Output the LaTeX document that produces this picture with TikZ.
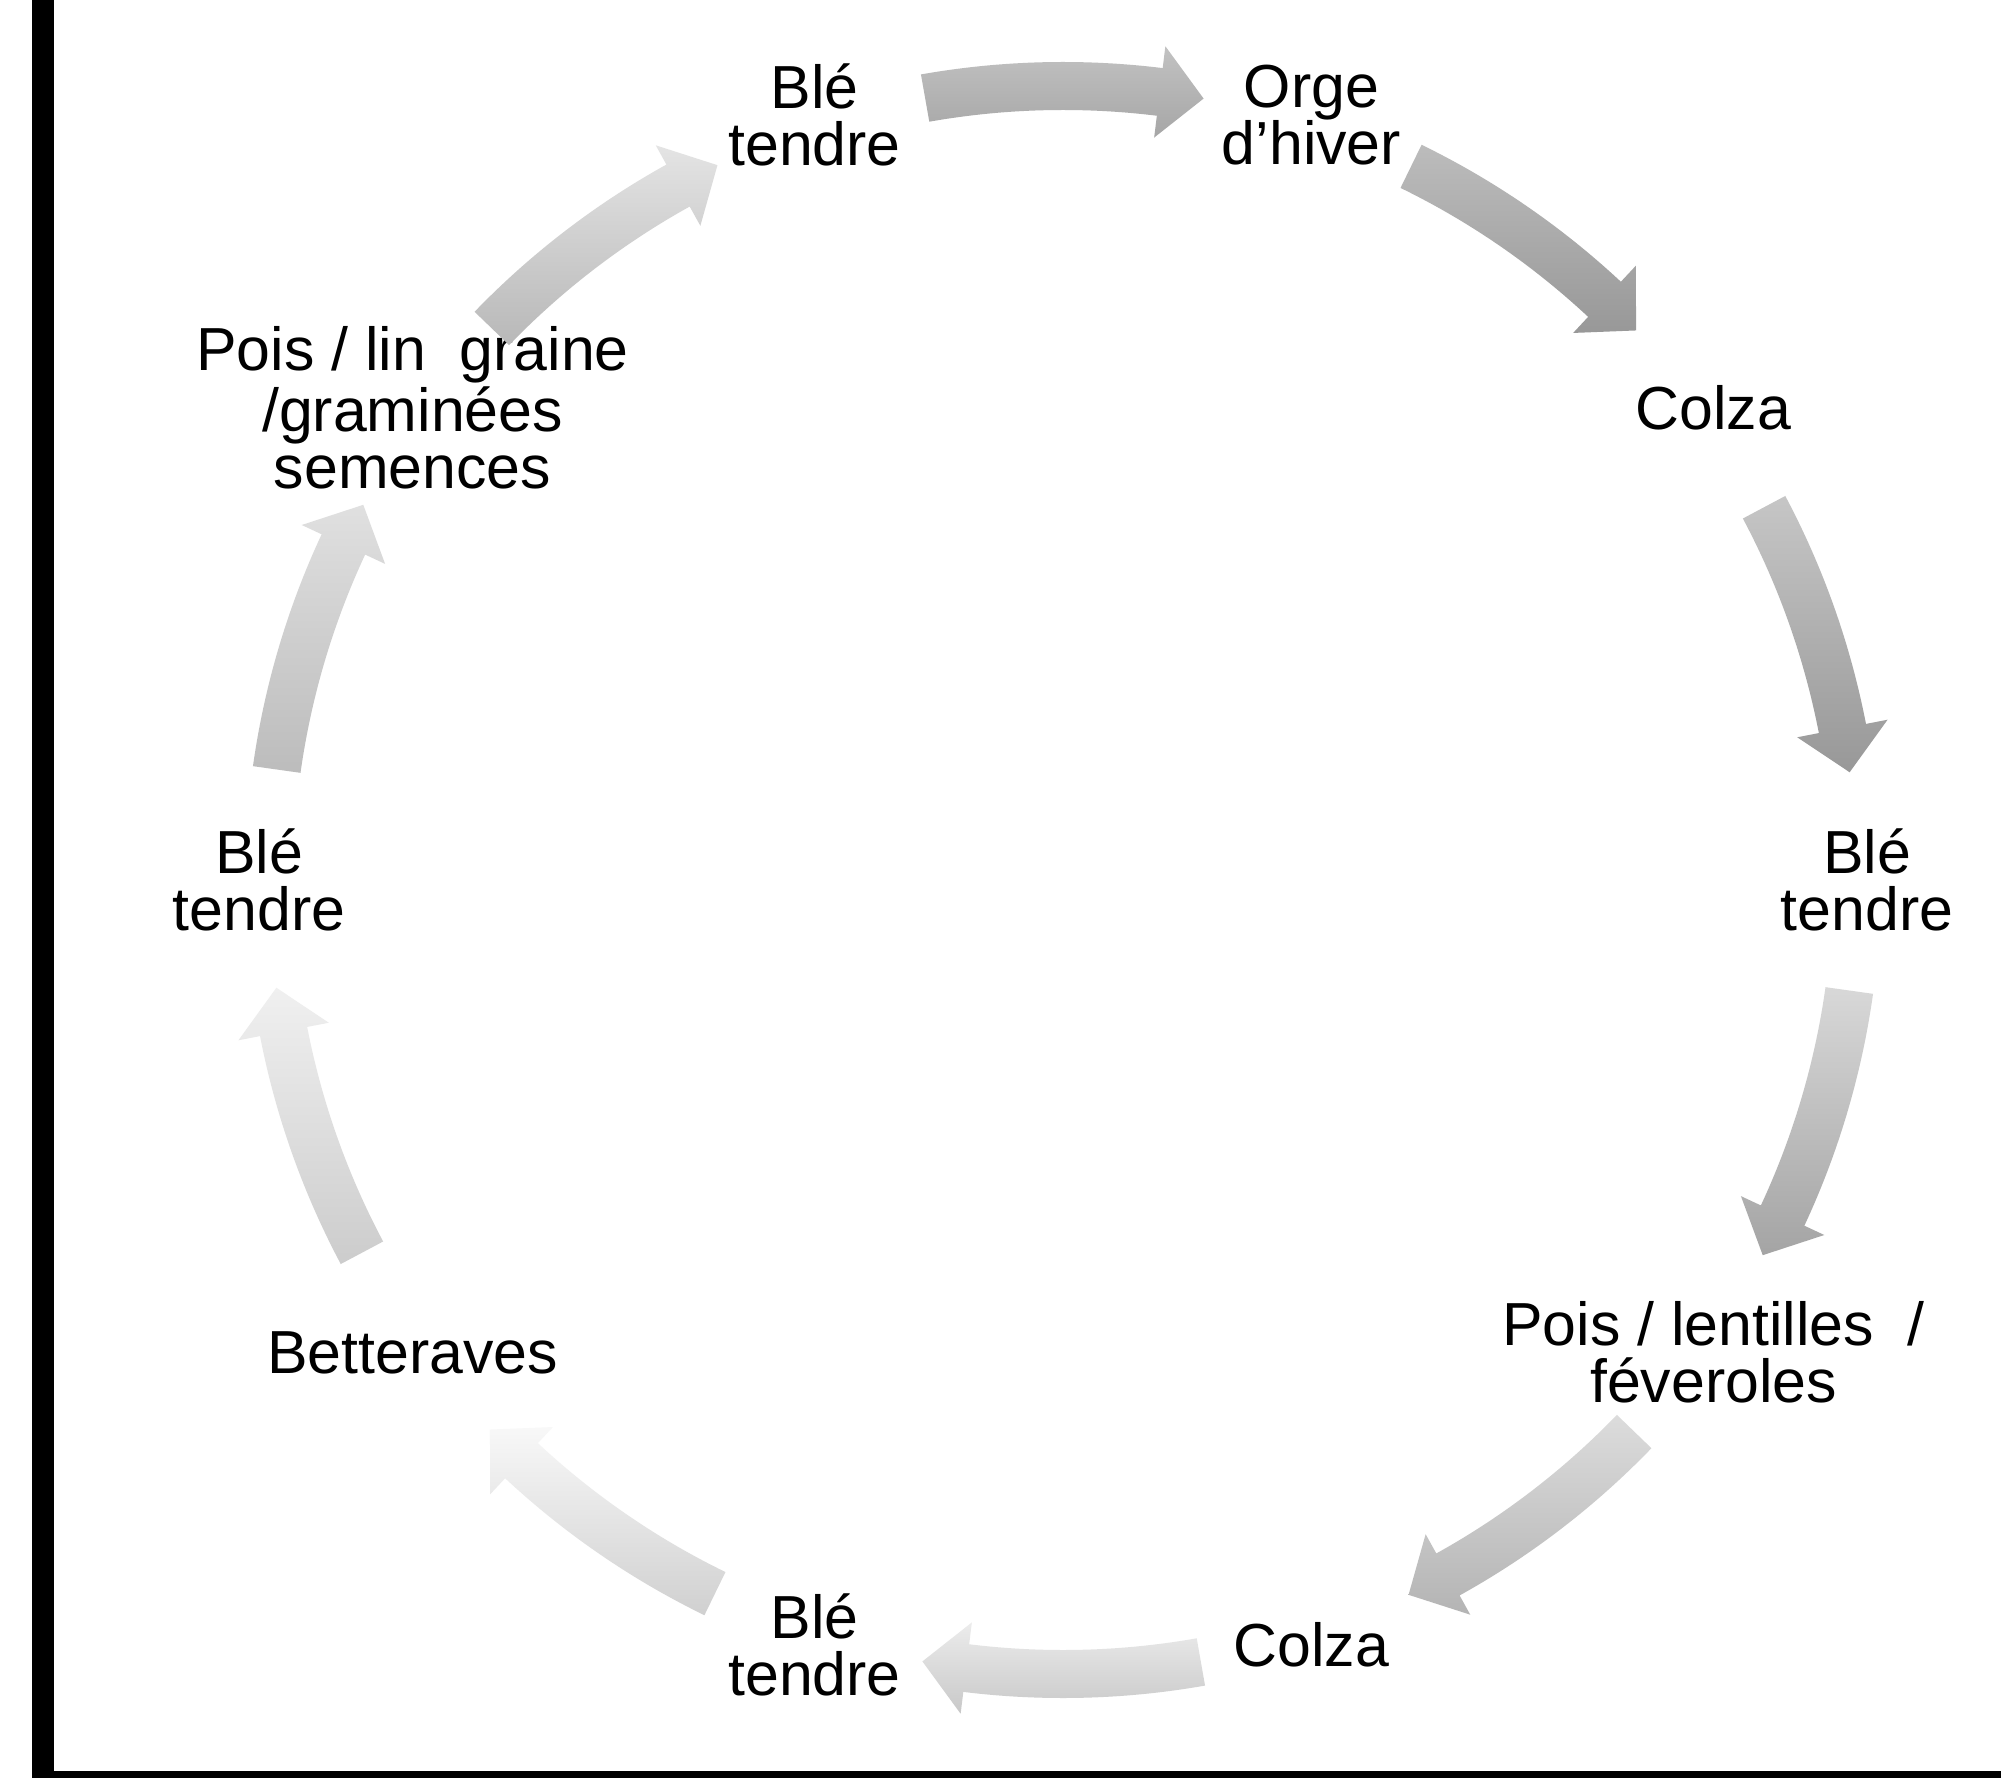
\documentclass[tikz,border=0pt]{standalone}
\usepackage{fontspec}
\setmainfont{Liberation Sans}
\definecolor{a1t}{HTML}{C2C2C2}\definecolor{a1b}{HTML}{A6A6A6}
\definecolor{a2t}{HTML}{BCBCBC}\definecolor{a2b}{HTML}{989898}
\definecolor{a3t}{HTML}{C6C6C6}\definecolor{a3b}{HTML}{989898}
\definecolor{a4t}{HTML}{D8D8D8}\definecolor{a4b}{HTML}{A4A4A4}
\definecolor{a5t}{HTML}{DCDCDC}\definecolor{a5b}{HTML}{B4B4B4}
\definecolor{a6t}{HTML}{ECECEC}\definecolor{a6b}{HTML}{C8C8C8}
\definecolor{a7t}{HTML}{F8F8F8}\definecolor{a7b}{HTML}{D0D0D0}
\definecolor{a8t}{HTML}{F0F0F0}\definecolor{a8b}{HTML}{CCCCCC}
\definecolor{a9t}{HTML}{E0E0E0}\definecolor{a9b}{HTML}{BCBCBC}
\definecolor{a10t}{HTML}{E4E4E4}\definecolor{a10b}{HTML}{B8B8B8}
\tikzset{
  lbl/.style={align=center, font=\fontsize{17.3pt}{16.2pt}\selectfont, inner sep=0pt, text=black},
  framebar/.style={fill=black, draw=none}
}
\newcommand\cycarrow[3]{%
  \shade[top color=#2, bottom color=#3]
    (#1+10:81.8mm) arc[start angle=#1+10, end angle=#1-7, radius=81.8mm]
    -- (#1-7:84.0mm) -- (#1-10.2:79.4mm) -- (#1-7:74.8mm)
    -- (#1-7:77.0mm) arc[start angle=#1-7, end angle=#1+10, radius=77.0mm] -- cycle;}
\begin{document}
\begin{tikzpicture}[x=0.1mm, y=0.1mm]
\useasboundingbox (0,0) rectangle (2001,1778);
\fill[white] (0,0) rectangle (2001,1778);
% frame bars
\path[framebar] (32,0) rectangle (54,1778);
\path[framebar] (32,0) rectangle (2001,7);
\begin{scope}[shift={(1063,898)}]
  % labels
  \node[lbl] (ble1) at (108:804) {Blé\\tendre};
  \node[lbl] (orge) at (72:804) {Orge\\d’hiver};
  \node[lbl] (colza1) at (36:804) {Colza};
  \node[lbl] (ble2) at (0:804) {Blé\\tendre};
  \node[lbl] (pois1) at (-36:804) {Pois / lentilles~~/\\féveroles};
  \node[lbl] (colza2) at (-72:804) {Colza};
  \node[lbl] (ble3) at (-108:804) {Blé\\tendre};
  \node[lbl] (bett) at (-144:804) {Betteraves};
  \node[lbl] (ble4) at (180:804) {Blé\\tendre};
  \node[lbl] (pois2) at (144:804) {Pois / lin~~graine\\/graminées\\semences};
  % cycle arrows
  \cycarrow{90}{a1t}{a1b}
  \cycarrow{54}{a2t}{a2b}
  \cycarrow{18}{a3t}{a3b}
  \cycarrow{-18}{a4t}{a4b}
  \cycarrow{-54}{a5t}{a5b}
  \cycarrow{-90}{a6t}{a6b}
  \cycarrow{-126}{a7t}{a7b}
  \cycarrow{-162}{a8t}{a8b}
  \cycarrow{162}{a9t}{a9b}
  \cycarrow{126}{a10t}{a10b}
\end{scope}
\end{tikzpicture}
\end{document}
